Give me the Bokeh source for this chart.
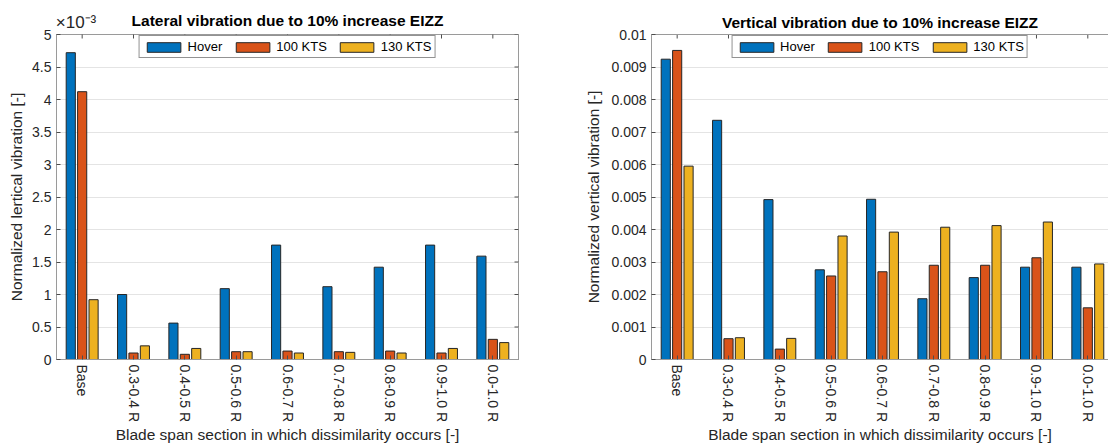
import math
from bokeh.plotting import figure
from bokeh.models import (ColumnDataSource, FixedTicker, LinearAxis, Legend,
                          LegendItem, Range1d)
from bokeh.layouts import row
from bokeh.transform import dodge
from bokeh.embed import file_html
from bokeh.resources import INLINE

# ---------------- data ----------------
categories = ["Base", "0.3-0.4 R", "0.4-0.5 R", "0.5-0.6 R", "0.6-0.7 R",
              "0.7-0.8 R", "0.8-0.9 R", "0.9-1.0 R", "0.0-1.0 R"]
series = ["Hover", "100 KTS", "130 KTS"]
colors = ["#0072BD", "#D95319", "#EDB120"]

# Lateral vibration (actual values)
lat_hover = [4.72e-3, 1.00e-3, 0.56e-3, 1.09e-3, 1.76e-3, 1.12e-3, 1.42e-3, 1.76e-3, 1.59e-3]
lat_100 = [4.12e-3, 0.10e-3, 0.08e-3, 0.12e-3, 0.13e-3, 0.12e-3, 0.13e-3, 0.10e-3, 0.31e-3]
lat_130 = [0.92e-3, 0.21e-3, 0.17e-3, 0.12e-3, 0.10e-3, 0.11e-3, 0.10e-3, 0.17e-3, 0.26e-3]

# Vertical vibration
ver_hover = [0.00924, 0.00736, 0.00492, 0.00276, 0.00493, 0.00187, 0.00252, 0.00284, 0.00284]
ver_100 = [0.00951, 0.00064, 0.00032, 0.00257, 0.00270, 0.00290, 0.00290, 0.00313, 0.00159]
ver_130 = [0.00595, 0.00067, 0.00065, 0.00380, 0.00392, 0.00407, 0.00412, 0.00423, 0.00294]

lat_scale = 1e-3  # left axis shown in units of 10^-3
lat_exponent = "×10⁻³"
lat_yticks = [0, 0.5, 1, 1.5, 2, 2.5, 3, 3.5, 4, 4.5, 5]
lat_ylabels = ["0", "0.5", "1", "1.5", "2", "2.5", "3", "3.5", "4", "4.5", "5"]
ver_yticks = [0, 0.001, 0.002, 0.003, 0.004, 0.005, 0.006, 0.007, 0.008, 0.009, 0.01]
ver_ylabels = ["0", "0.001", "0.002", "0.003", "0.004", "0.005", "0.006",
               "0.007", "0.008", "0.009", "0.01"]

FONT = "Liberation Sans"
TXT = "#262626"
AXC = "#9a9a9a"
TICKC = "#4d4d4d"

offsets = [-0.222, 0.0, 0.222]
bar_w = 0.178
H = 446
TOTAL_W = 1108


def make_fig(width, bl, br, x_end, y_end, yticks, ylabels, title, ylabel,
             values, outline=True, exponent=None):
    idx = list(range(1, len(categories) + 1))
    p = figure(width=width, height=H, output_backend="svg",
               toolbar_location=None, x_range=Range1d(0.5, x_end),
               y_range=Range1d(0, y_end), min_border_left=bl,
               min_border_right=br, min_border_top=34, min_border_bottom=87,
               title=None)
    p.background_fill_color = "white"
    p.border_fill_color = "white"
    p.outline_line_color = AXC if outline else None

    src = ColumnDataSource(dict(x=idx, s0=values[0], s1=values[1], s2=values[2]))
    rends = []
    for k in range(3):
        r = p.vbar(x=dodge("x", offsets[k]), top="s%d" % k, width=bar_w,
                   source=src, fill_color=colors[k], line_color="#262626",
                   line_width=1)
        rends.append(r)

    # inward ticks on the top edge (group centres) and right edge (y ticks)
    p.scatter(x=idx, y=[y_end] * len(idx), marker="dash", size=8,
              angle=math.pi / 2, line_color=TICKC, line_width=1)
    if outline:
        p.scatter(x=[x_end] * len(yticks), y=yticks, marker="dash", size=8,
                  line_color=TICKC, line_width=1)

    # axes
    xa = p.xaxis[0]
    xa.ticker = FixedTicker(ticks=idx)
    xa.major_label_overrides = {i: c for i, c in zip(idx, categories)}
    xa.major_label_orientation = -math.pi / 2
    xa.axis_label = "Blade span section in which dissimilarity occurs [-]"
    ya = p.yaxis[0]
    ya.ticker = FixedTicker(ticks=yticks)
    ya.major_label_overrides = {t: l for t, l in zip(yticks, ylabels)}
    ya.axis_label = ylabel
    for ax in (xa, ya):
        ax.axis_line_color = AXC
        ax.major_tick_line_color = TICKC
        ax.major_tick_in = 4
        ax.major_tick_out = 0
        ax.minor_tick_line_color = None
        ax.major_label_text_font = FONT
        ax.major_label_text_font_size = "14px"
        ax.major_label_text_color = TXT
        ax.axis_label_text_font = FONT
        ax.axis_label_text_font_size = "15.5px"
        ax.axis_label_text_font_style = "normal"
        ax.axis_label_text_color = TXT
        ax.major_label_standoff = 5
    xa.major_label_standoff = 5
    xa.axis_label_standoff = 1
    ya.axis_label_standoff = 4 if outline else 6

    # title (and exponent) carried by a top axis
    if exponent is not None:
        ex = 0.88
        top = LinearAxis(ticker=FixedTicker(ticks=[ex]),
                         major_label_overrides={ex: exponent},
                         major_label_standoff=3, axis_label_standoff=-19)
    else:
        top = LinearAxis(ticker=FixedTicker(ticks=[]), major_label_standoff=0,
                         axis_label_standoff=4)
    top.axis_label = title
    top.axis_label_text_font = FONT
    top.axis_label_text_font_size = "15.5px"
    top.axis_label_text_font_style = "bold"
    top.axis_label_text_color = "#000000"
    top.major_label_text_font = FONT
    top.major_label_text_font_size = "17px"
    top.major_label_text_color = TXT
    top.major_tick_in = 0
    top.major_tick_out = 0
    top.major_tick_line_color = None
    top.minor_tick_line_color = None
    top.axis_line_color = None if outline else AXC
    p.add_layout(top, "above")

    p.xgrid.visible = False
    p.ygrid.grid_line_color = "#e4e4e4"
    p.ygrid.ticker = FixedTicker(ticks=yticks)

    legend = Legend(items=[LegendItem(label=s, renderers=[r]) for s, r in zip(series, rends)],
                    location="top_center", orientation="horizontal", margin=1,
                    padding=3, spacing=9, glyph_width=42, glyph_height=12,
                    label_height=12, label_standoff=3, label_text_font=FONT,
                    label_text_font_size="13px", label_text_color="#000000",
                    border_line_color="#262626", border_line_width=1,
                    background_fill_color="white", background_fill_alpha=1)
    p.add_layout(legend)
    return p


W1 = 580
p1 = make_fig(W1, 56, W1 - 56 - 462, 9.5, 5, lat_yticks, lat_ylabels,
              "Lateral vibration due to 10% increase EIZZ",
              "Normalized lertical vibration [-]",
              [[v / lat_scale for v in lat_hover],
               [v / lat_scale for v in lat_100],
               [v / lat_scale for v in lat_130]], exponent=lat_exponent)

x_end2 = 0.5 + (TOTAL_W - 651) / 51.33
p2 = make_fig(TOTAL_W - W1, 651 - W1, 0, x_end2, 0.01, ver_yticks, ver_ylabels,
              "Vertical vibration due to 10% increase EIZZ",
              "Normalized vertical vibration [-]",
              [ver_hover, ver_100, ver_130], outline=False)

layout = row(p1, p2)
open("out.html", "w").write(file_html(layout, INLINE))
